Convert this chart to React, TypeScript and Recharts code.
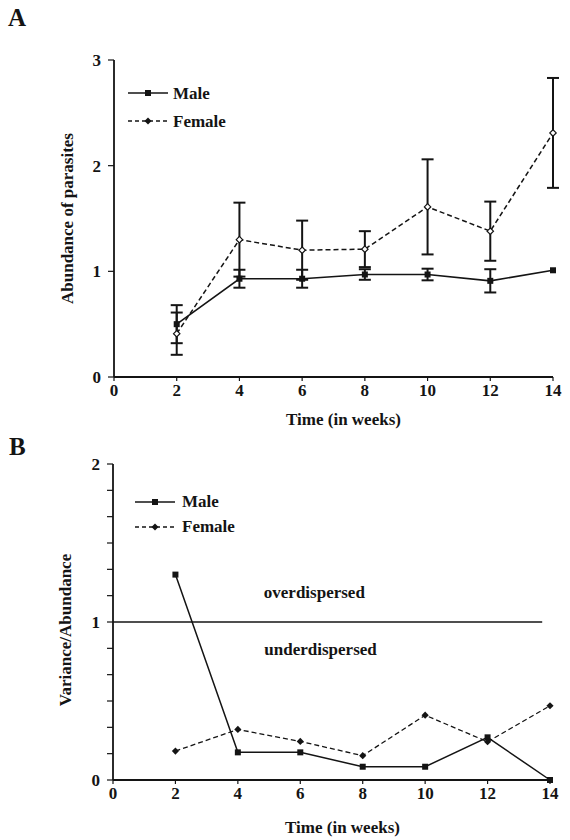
import React from 'react';
import { LineChart, Line, XAxis, YAxis, ErrorBar, Legend, ReferenceLine, ReferenceDot, Label } from 'recharts';

const weeks = [2, 4, 6, 8, 10, 12, 14];
const maleAbundance = [0.5, 0.93, 0.93, 0.97, 0.97, 0.91, 1.01];
const maleError = [0.18, 0.085, 0.085, 0.05, 0.055, 0.11, 0];
const femaleAbundance = [0.41, 1.3, 1.2, 1.21, 1.61, 1.38, 2.31];
const femaleError = [0.2, 0.35, 0.28, 0.17, 0.45, 0.28, 0.52];
const maleVarAb = [1.3, 0.175, 0.175, 0.084, 0.084, 0.27, 0.0];
const femaleVarAb = [0.183, 0.32, 0.244, 0.154, 0.41, 0.242, 0.47];

const xTicks = [0, 2, 4, 6, 8, 10, 12, 14];
const yTicksA = [0, 1, 2, 3];
const yTicksB = [0, 0.1667, 0.3333, 0.5, 0.6667, 0.8333, 1, 1.1667, 1.3333, 1.5, 1.6667, 1.8333, 2];
const seriesNames = ['Male', 'Female'];
const panelLetters = ['A', 'B'];
const annotations = [
  { text: 'overdispersed', x: 6.45, y: 1.19 },
  { text: 'underdispersed', x: 6.65, y: 0.83 },
];

const dataA = weeks.map((w, i) => ({
  week: w,
  male: maleAbundance[i],
  maleErr: maleError[i],
  female: femaleAbundance[i],
  femaleErr: femaleError[i],
}));
const dataB = weeks.map((w, i) => ({ week: w, male: maleVarAb[i], female: femaleVarAb[i] }));

const INK = '#141414';
const FONT = '"Liberation Serif", "Times New Roman", serif';
const tickStyle = { fontFamily: FONT, fontWeight: 700, fontSize: 17, fill: INK };

function SquareDot(props: any) {
  const { cx, cy } = props;
  if (cx == null || cy == null) return null;
  return <rect x={cx - 3} y={cy - 3} width={6} height={6} fill={INK} />;
}
function OpenDiamond(props: any) {
  const { cx, cy } = props;
  if (cx == null || cy == null) return null;
  const s = 3.2;
  return (
    <polygon
      points={`${cx},${cy - s} ${cx + s},${cy} ${cx},${cy + s} ${cx - s},${cy}`}
      fill="#fff"
      stroke={INK}
      strokeWidth={1.2}
    />
  );
}
function FilledDiamond(props: any) {
  const { cx, cy } = props;
  if (cx == null || cy == null) return null;
  const s = 3.6;
  return <polygon points={`${cx},${cy - s} ${cx + s},${cy} ${cx},${cy + s} ${cx - s},${cy}`} fill={INK} />;
}

function makeLegend(rowGap: number, gap: number) {
  return () => (
    <div style={{ fontFamily: FONT, fontWeight: 700, fontSize: 17, color: INK }}>
      {seriesNames.map((name, i) => (
        <div key={name} style={{ display: 'flex', alignItems: 'center', height: rowGap }}>
          <svg width={40} height={12} style={{ display: 'block' }}>
            <line
              x1={0}
              y1={6}
              x2={40}
              y2={6}
              stroke={INK}
              strokeWidth={1.5}
              strokeDasharray={i === 1 ? '4 3' : undefined}
            />
            {i === 0 ? (
              <rect x={17} y={3} width={6} height={6} fill={INK} />
            ) : (
              <polygon points="20,2.5 23.5,6 20,9.5 16.5,6" fill={INK} />
            )}
          </svg>
          <span style={{ marginLeft: gap, lineHeight: 1 }}>{name}</span>
        </div>
      ))}
    </div>
  );
}

function yTitle(text: string, cx: number, cy: number) {
  return (
    <text
      x={cx}
      y={cy}
      transform={`rotate(-90, ${cx}, ${cy})`}
      textAnchor="middle"
      dominantBaseline="central"
      style={{ fontFamily: FONT, fontWeight: 700, fontSize: 17, fill: INK }}
    >
      {text}
    </text>
  );
}
function xTitle(text: string, cx: number, baseline: number) {
  return (
    <text x={cx} y={baseline} textAnchor="middle" style={{ fontFamily: FONT, fontWeight: 700, fontSize: 17, fill: INK }}>
      {text}
    </text>
  );
}

export default function App() {
  return (
    <div style={{ position: 'absolute', left: 0, top: 0, width: 570, height: 840, background: '#fff' }}>
      <svg width={570} height={840} style={{ position: 'absolute', left: 0, top: 0 }}>
        <text x={8} y={26} style={{ fontFamily: FONT, fontWeight: 700, fontSize: 25, fill: INK }}>
          {panelLetters[0]}
        </text>
        <text x={9} y={455} style={{ fontFamily: FONT, fontWeight: 700, fontSize: 25, fill: INK }}>
          {panelLetters[1]}
        </text>
      </svg>

      <div style={{ position: 'absolute', left: 0, top: 0 }}>
        <LineChart width={570} height={440} data={dataA} margin={{ top: 60, right: 17, left: 20, bottom: 13 }}>
          <XAxis
            dataKey="week"
            type="number"
            domain={[0, 14]}
            ticks={xTicks}
            tick={tickStyle}
            tickSize={4}
            tickMargin={3}
            height={50}
            axisLine={{ stroke: INK, strokeWidth: 1.8 }}
            tickLine={{ stroke: INK, strokeWidth: 1.2 }}
          >
            <Label
              content={(p: any) => xTitle('Time (in weeks)', p.viewBox.x + p.viewBox.width / 2 + 10, p.viewBox.y + 48)}
            />
          </XAxis>
          <YAxis
            type="number"
            domain={[0, 3]}
            ticks={yTicksA}
            tick={tickStyle}
            tickSize={6}
            tickMargin={7}
            width={94}
            axisLine={{ stroke: INK, strokeWidth: 1.8 }}
            tickLine={{ stroke: INK, strokeWidth: 1.2 }}
          >
            <Label content={(p: any) => yTitle('Abundance of parasites', p.viewBox.x + 47, p.viewBox.y + p.viewBox.height / 2)} />
          </YAxis>
          <Legend
            layout="horizontal"
            verticalAlign="middle"
            align="center"
            content={makeLegend(28, 5)}
            wrapperStyle={{ position: 'absolute', left: 128, top: 79, width: 'auto', height: 'auto' }}
          />
          <Line
            dataKey="male"
            name="Male"
            type="linear"
            stroke={INK}
            strokeWidth={1.6}
            dot={<SquareDot />}
            activeDot={false}
            isAnimationActive={false}
          >
            <ErrorBar dataKey="maleErr" direction="y" width={6} stroke={INK} strokeWidth={2} isAnimationActive={false} />
          </Line>
          <Line
            dataKey="female"
            name="Female"
            type="linear"
            stroke={INK}
            strokeWidth={1.5}
            strokeDasharray="5 3"
            dot={<OpenDiamond />}
            activeDot={false}
            isAnimationActive={false}
          >
            <ErrorBar dataKey="femaleErr" direction="y" width={6} stroke={INK} strokeWidth={2} isAnimationActive={false} />
          </Line>
        </LineChart>
      </div>

      <div style={{ position: 'absolute', left: 0, top: 440 }}>
        <LineChart width={570} height={400} data={dataB} margin={{ top: 24, right: 20, left: 17, bottom: 10 }}>
          <XAxis
            dataKey="week"
            type="number"
            domain={[0, 14]}
            ticks={xTicks}
            tick={tickStyle}
            tickSize={4}
            tickMargin={3}
            height={50}
            axisLine={{ stroke: INK, strokeWidth: 1.8 }}
            tickLine={{ stroke: INK, strokeWidth: 1.2 }}
          >
            <Label
              content={(p: any) => xTitle('Time (in weeks)', p.viewBox.x + p.viewBox.width / 2 + 11, p.viewBox.y + 53)}
            />
          </XAxis>
          <YAxis
            type="number"
            domain={[0, 2]}
            ticks={yTicksB}
            tick={tickStyle}
            tickFormatter={(v: number) => (Number.isInteger(v) ? String(v) : '')}
            tickSize={6}
            tickMargin={7}
            width={96}
            interval={0}
            axisLine={{ stroke: INK, strokeWidth: 1.8 }}
            tickLine={{ stroke: INK, strokeWidth: 1.2 }}
          >
            <Label content={(p: any) => yTitle('Variance/Abundance', p.viewBox.x + 48, p.viewBox.y + p.viewBox.height / 2 + 8)} />
          </YAxis>
          <Legend
            layout="horizontal"
            verticalAlign="middle"
            align="center"
            content={makeLegend(25, 7)}
            wrapperStyle={{ position: 'absolute', left: 135, top: 49, width: 'auto', height: 'auto' }}
          />
          <ReferenceLine
            segment={[
              { x: 0, y: 1 },
              { x: 13.75, y: 1 },
            ]}
            stroke={INK}
            strokeWidth={1.5}
          />
          {annotations.map((a) => (
            <ReferenceDot
              key={a.text}
              x={a.x}
              y={a.y}
              r={0}
              fill="none"
              stroke="none"
              label={{ value: a.text, position: 'center', style: { fontFamily: FONT, fontWeight: 700, fontSize: 17, fill: INK } }}
            />
          ))}
          <Line
            dataKey="male"
            name="Male"
            type="linear"
            stroke={INK}
            strokeWidth={1.5}
            dot={<SquareDot />}
            activeDot={false}
            isAnimationActive={false}
          />
          <Line
            dataKey="female"
            name="Female"
            type="linear"
            stroke={INK}
            strokeWidth={1.3}
            strokeDasharray="5 3"
            dot={<FilledDiamond />}
            activeDot={false}
            isAnimationActive={false}
          />
        </LineChart>
      </div>
    </div>
  );
}
